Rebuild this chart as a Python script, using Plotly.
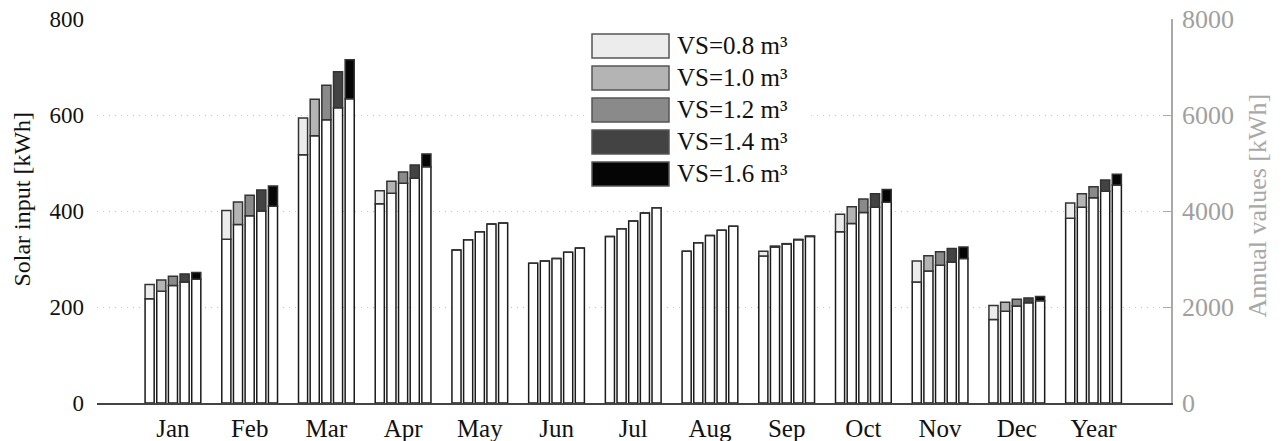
import plotly.graph_objects as go

months = ["Jan", "Feb", "Mar", "Apr", "May", "Jun", "Jul", "Aug", "Sep", "Oct", "Nov", "Dec"]
year_label = "Year"
vs_labels = ["VS=0.8 m³", "VS=1.0 m³", "VS=1.2 m³", "VS=1.4 m³", "VS=1.6 m³"]
vs_colors = ["#ececec", "#b4b4b4", "#8a8a8a", "#434343", "#050505"]

# monthly solar input [kWh]: total bar height and white (lower) part
total_vs08 = [247, 401, 594, 442, 319, 291, 347, 316, 316, 393, 296, 203]
base_vs08 = [217, 341, 517, 415, 319, 291, 347, 316, 306, 357, 252, 174]
total_vs10 = [256, 419, 633, 462, 340, 296, 363, 334, 327, 409, 307, 210]
base_vs10 = [233, 372, 557, 437, 340, 296, 363, 334, 325, 374, 275, 191]
total_vs12 = [264, 433, 662, 481, 357, 301, 379, 349, 332, 425, 315, 216]
base_vs12 = [245, 390, 590, 458, 357, 301, 379, 349, 331, 397, 287, 202]
total_vs14 = [269, 444, 690, 496, 373, 314, 396, 360, 341, 436, 322, 219]
base_vs14 = [252, 400, 615, 468, 373, 314, 396, 360, 340, 408, 294, 209]
total_vs16 = [272, 452, 715, 519, 375, 323, 407, 368, 348, 445, 325, 222]
base_vs16 = [258, 410, 634, 492, 375, 323, 407, 368, 347, 418, 301, 213]

# annual values [kWh] per VS
annual_total = [4167, 4360, 4507, 4646, 4764]
annual_base = [3847, 4076, 4277, 4410, 4542]

totals = [total_vs08, total_vs10, total_vs12, total_vs14, total_vs16]
bases = [base_vs08, base_vs10, base_vs12, base_vs14, base_vs16]

FONT = "Liberation Serif"
fig = go.Figure()

for k in range(5):
    tops = [t - b for t, b in zip(totals[k], bases[k])]
    fig.add_bar(x=months, y=bases[k], offsetgroup=str(k), yaxis="y",
                marker=dict(color="white", line=dict(color="#1a1a1a", width=1.5)),
                showlegend=False, hoverinfo="skip")
    fig.add_bar(x=months, y=tops, base=bases[k], offsetgroup=str(k), yaxis="y",
                marker=dict(color=vs_colors[k], line=dict(color="#333333", width=1.5)),
                showlegend=False, hoverinfo="skip")
    fig.add_bar(x=[year_label], y=[annual_base[k]], offsetgroup=str(k), yaxis="y2",
                marker=dict(color="white", line=dict(color="#1a1a1a", width=1.5)),
                showlegend=False, hoverinfo="skip")
    fig.add_bar(x=[year_label], y=[annual_total[k] - annual_base[k]], base=[annual_base[k]],
                offsetgroup=str(k), yaxis="y2",
                marker=dict(color=vs_colors[k], line=dict(color="#333333", width=1.5)),
                showlegend=False, hoverinfo="skip")

cats = months + [year_label]

# custom legend (large swatches)
shapes = [dict(type="rect", xref="paper", yref="paper", x0=0.455, x1=0.665, y0=0.55, y1=0.985,
               fillcolor="white", line=dict(width=0), layer="above")]
annotations = []
for k, lab in enumerate(vs_labels):
    ytop = 0.961 - k * 0.0833
    shapes.append(dict(type="rect", xref="paper", yref="paper", x0=0.4609, x1=0.5326,
                       y0=ytop - 0.0625, y1=ytop, fillcolor=vs_colors[k],
                       line=dict(color="#555555", width=1.5), layer="above"))
    annotations.append(dict(xref="paper", yref="paper", x=0.538, y=ytop - 0.031,
                            xanchor="left", yanchor="middle", text=lab, showarrow=False,
                            font=dict(family=FONT, size=25, color="#111111")))

# axis titles
annotations.append(dict(xref="paper", yref="paper", x=-0.0694, y=0.531, textangle=-90,
                        xanchor="center", yanchor="middle", showarrow=False,
                        text="Solar input [kWh]", font=dict(family=FONT, size=24, color="#111111")))
annotations.append(dict(xref="paper", yref="paper", x=1.081, y=0.514, textangle=-90,
                        xanchor="center", yanchor="middle", showarrow=False,
                        text="Annual values [kWh]", font=dict(family=FONT, size=26, color="#a8a8a8")))

fig.update_layout(
    width=1282, height=441,
    margin=dict(l=97, r=111, t=19, b=38, autoexpand=False),
    paper_bgcolor="white", plot_bgcolor="white",
    barmode="group", bargap=0.24, bargroupgap=0.22,
    font=dict(family=FONT, size=22, color="#111111"),
    shapes=shapes, annotations=annotations,
    xaxis=dict(type="category", categoryorder="array", categoryarray=cats, automargin=False,
               range=[-0.99, 13.01], showline=True, linecolor="#444444", linewidth=1.5,
               ticks="", showgrid=False, zeroline=False, ticklabelstandoff=2,
               tickfont=dict(family=FONT, size=25, color="#111111")),
    yaxis=dict(range=[0, 800], tickvals=[0, 200, 400, 600, 800], showline=False, automargin=False,
               zeroline=False, ticks="", gridcolor="#c4c4c4", griddash="1px,5px", gridwidth=1,
               ticklabelstandoff=12,
               tickfont=dict(family=FONT, size=23, color="#111111")),
    yaxis2=dict(range=[0, 8000], tickvals=[0, 2000, 4000, 6000, 8000], overlaying="y",
                side="right", anchor="x", showline=True, linecolor="#aaaaaa", linewidth=1.5,
                ticks="inside", ticklen=8, tickcolor="#aaaaaa", showgrid=False, zeroline=False,
                ticklabelstandoff=4, automargin=False,
                tickfont=dict(family=FONT, size=26, color="#a0a0a0")),
)

fig.write_html("out.html")
